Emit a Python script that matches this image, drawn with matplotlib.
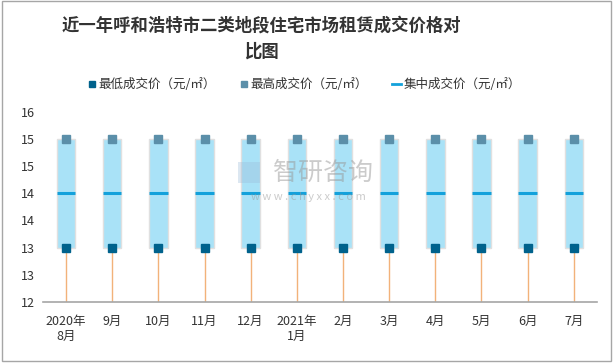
import matplotlib.pyplot as plt
from matplotlib.lines import Line2D
from matplotlib.patches import Rectangle
import numpy as np

plt.rcParams['font.family'] = ['Noto Sans CJK SC', 'DejaVu Sans']

months = ['2020年\n8月', '9月', '10月', '11月', '12月', '2021年\n1月',
          '2月', '3月', '4月', '5月', '6月', '7月']
low_price = [13, 13, 13, 13, 13, 13, 13, 13, 13, 13, 13, 13]
high_price = [15, 15, 15, 15, 15, 15, 15, 15, 15, 15, 15, 15]
mid_price = [14, 14, 14, 14, 14, 14, 14, 14, 14, 14, 14, 14]

c_low = '#00628C'
c_high = '#5B8FA9'
c_mid = '#13A1DB'
c_box = '#A9E2F7'
c_stem = '#F2B27A'

fig = plt.figure(figsize=(6.14, 3.63), dpi=100)
ax = fig.add_axes([0.070, 0.168, 0.902, 0.524])

x = np.arange(len(months))
w = 0.4
base = 12

for i in x:
    ax.vlines(i, base, low_price[i], color=c_stem, lw=1, zorder=1)
    ax.add_patch(Rectangle((i - w / 2, low_price[i]), w, high_price[i] - low_price[i],
                           facecolor=c_box, edgecolor='#E0E0E0', lw=1.0, zorder=2))
    ax.hlines(mid_price[i], i - w / 2, i + w / 2, color=c_mid, lw=2.2, zorder=3)

ax.plot(x, low_price, 's', color=c_low, ms=5.5, zorder=4)
ax.plot(x, high_price, 's', color=c_high, ms=5.5, zorder=4)

ax.set_xlim(-0.5, len(months) - 0.5)
ax.set_ylim(12, 15.5)
yt = [12, 12.5, 13, 13.5, 14, 14.5, 15, 15.5]
ax.set_yticks(yt)
ax.set_yticklabels([str(int(np.floor(v + 0.5))) for v in yt])
ax.set_xticks(x)
ax.set_xticklabels(months)
ax.tick_params(axis='both', length=0, labelsize=9, colors='#333333', pad=6)
ax.tick_params(axis='x', pad=9)
for s in ['top', 'right', 'left']:
    ax.spines[s].set_visible(False)
ax.spines['bottom'].set_color('#A6A6A6')
ax.spines['bottom'].set_linewidth(1.2)

fig.text(0.425, 0.929, '近一年呼和浩特市二类地段住宅市场租赁成交价格对', ha='center', va='center',
         fontsize=12.5, fontweight='bold', color='#333333')
fig.text(0.425, 0.858, '比图', ha='center', va='center',
         fontsize=12.5, fontweight='bold', color='#333333')

handles = [
    Line2D([], [], marker='s', ls='none', color=c_low, ms=5),
    Line2D([], [], marker='s', ls='none', color=c_high, ms=5),
    Line2D([], [], color=c_mid, lw=2),
]
labels = ['最低成交价（元/㎡）', '最高成交价（元/㎡）', '集中成交价（元/㎡）']
fig.legend(handles, labels, loc='center', bbox_to_anchor=(0.495, 0.766), ncol=3,
           frameon=False, fontsize=9, handlelength=0.7, handletextpad=0.2,
           columnspacing=1.9, labelcolor='#333333')

# watermark
fig.text(0.526, 0.525, '智研咨询', ha='center', va='center', fontsize=18,
         color='#999999', alpha=0.5, zorder=10)
fig.text(0.502, 0.458, 'w w w . c h y x x . c o m', ha='center', va='center', fontsize=8,
         color='#999999', alpha=0.5, zorder=10)
fig.patches.append(Rectangle((0.388, 0.495), 0.035, 0.06, transform=fig.transFigure,
                             facecolor='#9DBBD8', alpha=0.35, edgecolor='none', zorder=10))

fig.patches.append(Rectangle((0.003, 0.006), 0.992, 0.99, transform=fig.transFigure,
                             fill=False, edgecolor='#A6A6A6', lw=1))

fig.savefig('out.png', dpi=100)
